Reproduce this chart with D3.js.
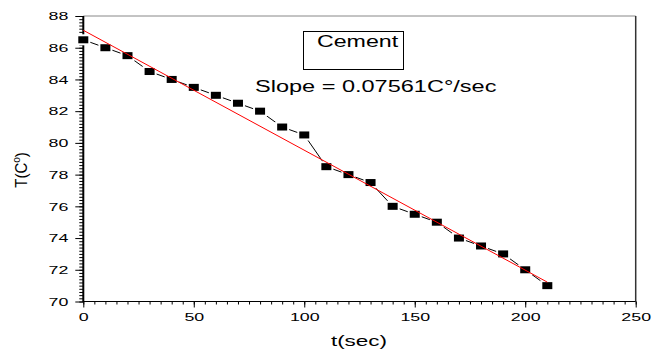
<!DOCTYPE html>
<html>
<head>
<meta charset="utf-8">
<script src="https://cdn.jsdelivr.net/npm/d3@7"></script>
<style>
body { margin: 0; background: #fff; }
svg { display: block; }
text { font-family: Arial, "Liberation Sans", sans-serif; fill: #000; }
</style>
</head>
<body>
<svg id="chart"></svg>
<script>
// data
var timeSec = [0, 10, 20, 30, 40, 50, 60, 70, 80, 90, 100, 110, 120, 130, 140, 150, 160, 170, 180, 190, 200, 210];
var tempC = [86.5, 86, 85.5, 84.5, 84, 83.5, 83, 82.5, 82, 81, 80.5, 78.5, 78, 77.5, 76, 75.5, 75, 74, 73.5, 73, 72, 71];

// linear fit end points
var fitT = [0, 210];
var fitTemp = [87.1, 71.22];

var xTicks = [0, 50, 100, 150, 200, 250];
var yTicks = [70, 72, 74, 76, 78, 80, 82, 84, 86, 88];
var legendLabel = "Cement";
var slopeLabel = "Slope = 0.07561C\u00b0/sec";

var W = 653, H = 351;
var plotL = 83.3, plotR = 635.7, plotT = 16, plotB = 301.5;
var sx = 1.55; // text in the picture is stretched sideways

var svg = d3.select("#chart").attr("width", W).attr("height", H);

var x = d3.scaleLinear().domain([0, 250]).range([plotL, plotR]);
var y = d3.scaleLinear().domain([70, 88]).range([plotB, plotT]);

//frame
svg.append("line").attr("x1", plotL).attr("x2", plotR).attr("y1", plotT).attr("y2", plotT)
  .attr("stroke", "#888").attr("stroke-width", 1);
svg.append("line").attr("x1", plotR).attr("x2", plotR).attr("y1", plotT).attr("y2", plotB)
  .attr("stroke", "#333").attr("stroke-width", 1.5);

//minor ticks
svg.append("g").attr("transform", "translate(0," + plotB + ")")
  .call(d3.axisBottom(x).tickValues(d3.range(0, 251, 5)).tickSize(3).tickFormat(""))
  .call(function(g){ g.select(".domain").remove(); });
svg.append("g").attr("transform", "translate(" + plotL + ",0)")
  .call(d3.axisLeft(y).tickValues(d3.range(70, 88.01, 0.2)).tickSize(4).tickFormat(""))
  .call(function(g){ g.select(".domain").remove(); });

//major ticks + labels
var xAxis = svg.append("g").attr("transform", "translate(0," + plotB + ")")
  .call(d3.axisBottom(x).tickValues(xTicks).tickSize(6).tickFormat(d3.format("d")));
xAxis.select(".domain").remove();
xAxis.selectAll("text").attr("font-size", 11.5).attr("y", 11).attr("dy", "0.71em")
  .attr("transform", "scale(" + sx + ",1)");

var yAxis = svg.append("g").attr("transform", "translate(" + plotL + ",0)")
  .call(d3.axisLeft(y).tickValues(yTicks).tickSize(8).tickFormat(d3.format("d")));
yAxis.select(".domain").remove();
yAxis.selectAll("text").attr("font-size", 11.5).attr("x", -15 / sx)
  .attr("transform", "scale(" + sx + ",1)");
svg.selectAll(".tick line").attr("stroke", "#000");

//axis lines
svg.append("line").attr("x1", plotL).attr("x2", plotR).attr("y1", plotB).attr("y2", plotB)
  .attr("stroke", "#000").attr("stroke-width", 1.2);
svg.append("line").attr("x1", plotL).attr("x2", plotL).attr("y1", plotT).attr("y2", plotB + 0.5)
  .attr("stroke", "#000").attr("stroke-width", 2);

//axis titles
svg.append("text").attr("font-size", 15).attr("text-anchor", "middle")
  .attr("transform", "translate(359,346) scale(1.5,1)")
  .text("t(sec)");

var yl = svg.append("text").attr("font-size", 15).attr("text-anchor", "middle")
  .attr("transform", "translate(27,170) scale(1.1,1) rotate(-90)");
yl.append("tspan").text("T(C");
yl.append("tspan").attr("font-size", 10).attr("dy", -6).text("o");
yl.append("tspan").attr("dy", 6).text(")");

//data line
var pts = timeSec.map(function(t, i){ return [t, tempC[i]]; });
var line = d3.line().x(function(d){ return x(d[0]); }).y(function(d){ return y(d[1]); });

svg.append("path").datum(pts).attr("d", line)
  .attr("fill", "none").attr("stroke", "#000").attr("stroke-width", 1);

// white halo round the symbols
svg.selectAll("rect.halo").data(pts).enter().append("rect").attr("class", "halo")
  .attr("x", function(d){ return x(d[0]) - 7; })
  .attr("y", function(d){ return y(d[1]) - 5.5; })
  .attr("width", 14).attr("height", 11).attr("fill", "#fff");

svg.selectAll("rect.sym").data(pts).enter().append("rect").attr("class", "sym")
  .attr("x", function(d){ return x(d[0]) - 5; })
  .attr("y", function(d){ return y(d[1]) - 3.5; })
  .attr("width", 10).attr("height", 7).attr("fill", "#000");

//fit line
var fitPts = fitT.map(function(t, i){ return [t, fitTemp[i]]; });
svg.append("path").datum(fitPts).attr("d", line)
  .attr("fill", "none").attr("stroke", "#ff0000").attr("stroke-width", 1);

//legend
svg.append("rect").attr("x", 303.5).attr("y", 31.5).attr("width", 100).attr("height", 38)
  .attr("fill", "none").attr("stroke", "#000").attr("stroke-width", 1);
svg.append("text").attr("font-size", 16)
  .attr("transform", "translate(317,47) scale(1.45,1)")
  .text(legendLabel);
svg.append("text").attr("font-size", 16)
  .attr("transform", "translate(255,92) scale(1.47,1)")
  .text(slopeLabel);
</script>
</body>
</html>
